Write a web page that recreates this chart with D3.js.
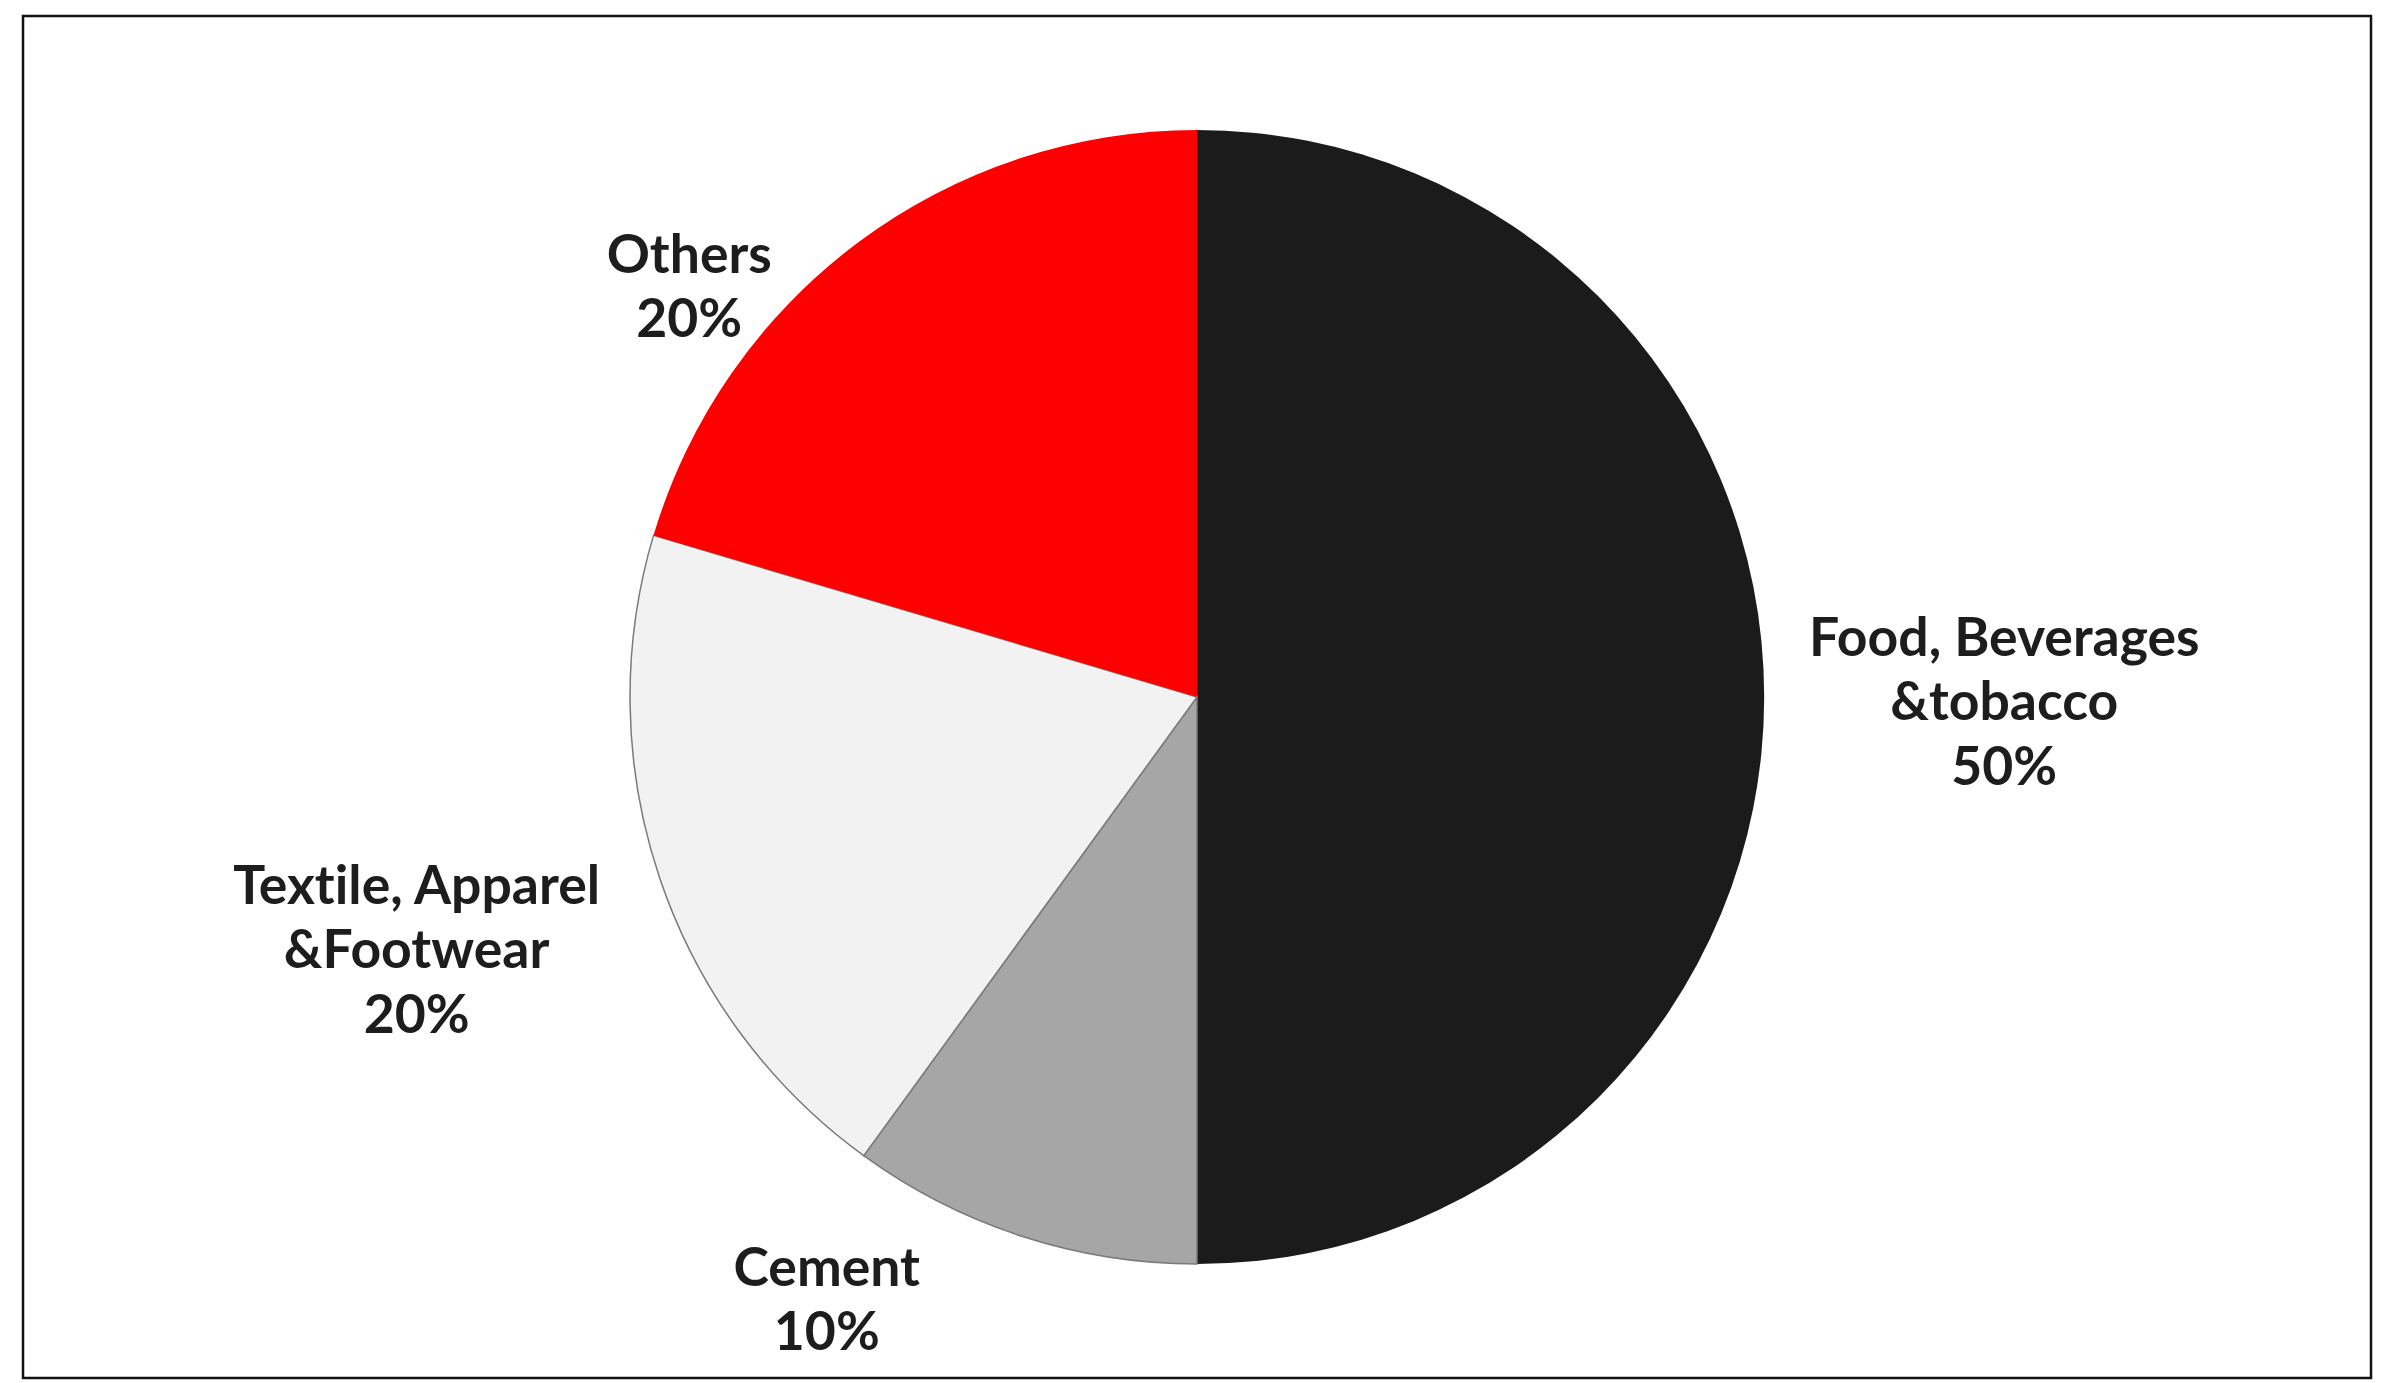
<!DOCTYPE html>
<html>
<head>
<meta charset="utf-8">
<script src="https://cdn.jsdelivr.net/npm/d3@7"></script>
<style>
  html, body { margin: 0; padding: 0; background: #fff; }
  svg { display: block; }
  text { font-variant-ligatures: none; font-feature-settings: "liga" 0, "clig" 0; }
</style>
</head>
<body>
<svg id="chart" width="2383" height="1383"></svg>
<script>
// ---- data ----
const categories = ["Food, Beverages &tobacco", "Cement", "Textile, Apparel &Footwear", "Others"];
const labelLines = [["Food, Beverages", "&tobacco"], ["Cement"], ["Textile, Apparel", "&Footwear"], ["Others"]];
const values = [50, 10, 19.6, 20.4];
const percentLabels = ["50%", "10%", "20%", "20%"];

// ---- style / layout ----
const colors = ["#1b1b1b", "#a6a6a6", "#f2f2f2", "#ff0000"];
const strokes = ["none", "#7a7a7a", "#7a7a7a", "none"];
const labelAngleShift = [0.3, 13.6, 0.8, -14.3]; // degrees, label nudges
const labelGap = [45, 78, 60, 0];

const W = 2383, H = 1383;
const cx = 1197, cy = 697, R = 567;
const fontSize = 53.5, lineH = 64.5, capH = 38;

const svg = d3.select("#chart");
svg.append("rect").attr("x", 23).attr("y", 16).attr("width", 2348).attr("height", 1362)
  .attr("fill", "#fff").attr("stroke", "#111").attr("stroke-width", 2.5);

const data = categories.map((c, i) => ({ name: c, value: values[i], i }));
const pie = d3.pie().value(d => d.value).sort(null);
const arcs = pie(data);
const arc = d3.arc().innerRadius(0).outerRadius(R);

const g = svg.append("g").attr("transform", `translate(${cx},${cy})`);
g.selectAll("path.slice").data(arcs).join("path")
  .attr("class", "slice")
  .attr("d", arc)
  .attr("fill", d => colors[d.data.i])
  .attr("stroke", d => strokes[d.data.i])
  .attr("stroke-width", 1.5);

// labels
arcs.forEach(a => {
  const i = a.data.i;
  const lines = labelLines[i].concat([percentLabels[i]]);
  const t = g.append("text")
    .attr("text-anchor", "middle")
    .attr("font-family", "Lato, 'Open Sans', sans-serif")
    .attr("font-weight", 700)
    .attr("font-size", fontSize)
    .attr("fill", "#1d1d1d");
  const tsp = lines.map((l, k) => t.append("tspan").attr("x", 0).text(l));
  const w = d3.max(tsp, s => s.node().getComputedTextLength());
  const h = (lines.length - 1) * lineH + capH;
  const ang = (a.startAngle + a.endAngle) / 2 + labelAngleShift[i] * Math.PI / 180;
  const ux = Math.sin(ang), uy = -Math.cos(ang);
  const tx = Math.abs(ux) > 1e-6 ? (w / 2 + 8) / Math.abs(ux) : Infinity;
  const ty = Math.abs(uy) > 1e-6 ? (h / 2 + 8) / Math.abs(uy) : Infinity;
  const dist = R + labelGap[i] + Math.min(tx, ty) - 8;
  const lx = ux * dist, ly = uy * dist;
  const firstBase = ly - (lines.length - 1) * lineH / 2 + capH / 2;
  tsp.forEach((s, k) => s.attr("x", lx).attr("y", firstBase + k * lineH));
});
</script>
</body>
</html>
